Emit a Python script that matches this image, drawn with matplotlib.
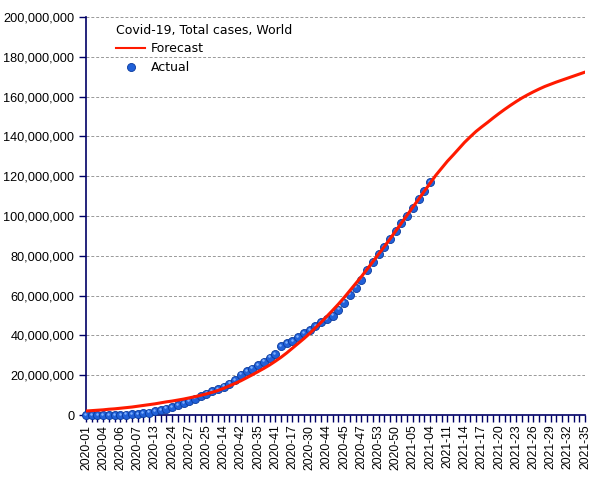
import matplotlib
matplotlib.use('Agg')
import matplotlib.pyplot as plt
from matplotlib.ticker import FuncFormatter

# week labels as printed on the x axis (every third week)
week_labels = ['2020-01', '2020-04', '2020-06', '2020-07', '2020-13', '2020-24',
               '2020-27', '2020-25', '2020-14', '2020-42', '2020-35', '2020-41',
               '2020-17', '2020-30', '2020-44', '2020-45', '2020-47', '2020-53',
               '2020-50', '2021-05', '2021-04', '2021-11', '2021-14', '2021-17',
               '2021-20', '2021-23', '2021-26', '2021-29', '2021-32', '2021-35']

# forecast, millions of cases (88 weeks)
forecast = [2.0, 2.2, 2.4, 2.6, 2.9, 3.1, 3.4, 3.7, 4.0, 4.4,
            4.8, 5.2, 5.6, 6.1, 6.6, 7.0, 7.5, 8.0, 8.6, 9.2,
            9.9, 10.6, 11.4, 12.3, 13.4, 14.6, 15.9, 17.2, 18.7, 20.2,
            21.8, 23.4, 25.1, 27.0, 29.0, 31.2, 33.6, 36.0, 38.4, 41.0,
            43.8, 46.6, 49.6, 52.6, 55.7, 59.0, 62.5, 66.0, 69.5, 73.2,
            77.0, 80.8, 84.6, 88.5, 92.5, 96.5, 100.5, 104.5, 108.5, 112.5,
            116.5, 120.5, 124.0, 127.5, 130.6, 133.8, 137.0, 139.8, 142.5, 144.8,
            147.0, 149.3, 151.5, 153.6, 155.6, 157.5, 159.3, 160.9, 162.4, 163.8,
            165.1, 166.2, 167.3, 168.3, 169.3, 170.3, 171.3, 172.3]

# actual, millions of cases (61 weeks)
actual = [0.0, 0.0, 0.0, 0.0, 0.05, 0.1, 0.1, 0.2, 0.3, 0.5,
          0.8, 1.2, 1.8, 2.5, 3.2, 4.0, 4.9, 5.9, 7.0, 8.2,
          9.5, 10.8, 12.0, 13.0, 14.3, 15.8, 17.6, 20.3, 22.0, 23.3,
          25.0, 26.8, 28.8, 30.8, 34.5, 36.0, 37.2, 39.3, 41.0, 42.8,
          44.5, 46.5, 48.0, 50.0, 53.0, 56.5, 60.5, 64.0, 68.0, 73.0,
          77.0, 81.0, 84.5, 88.5, 92.5, 96.5, 100.0, 104.0, 108.5, 112.5,
          117.0]

plt.rcParams['font.family'] = ['Liberation Sans', 'DejaVu Sans']
navy = '#000066'

fig = plt.figure(figsize=(6.05, 4.8), dpi=100)
ax = fig.add_axes([86/605, 65/480, 499/605, 398/480])

xf = list(range(len(forecast)))
xa = list(range(len(actual)))
yf = [v * 1e6 for v in forecast]
ya = [v * 1e6 for v in actual]

dots, = ax.plot(xa, ya, 'o', color='#2060d8', markeredgecolor='#0a3a9c',
                markeredgewidth=0.6, markersize=5.8, clip_on=False, zorder=3)
# small highlight to get the shaded-ball look
ax.plot([x - 0.15 for x in xa], [y + 0.6e6 for y in ya], 'o', color='#7fb0ff',
        markersize=1.8, markeredgewidth=0, clip_on=False, zorder=3.5)
line, = ax.plot(xf, yf, color='#ff1a00', linewidth=2.2, zorder=4)

ax.set_xlim(0, len(forecast) - 1)
ax.set_ylim(0, 200e6)
ax.set_yticks([i * 20e6 for i in range(11)])
ax.yaxis.set_major_formatter(FuncFormatter(lambda v, p: f'{int(v):,}'))
ax.set_xticks(range(0, len(forecast), 3))
ax.set_xticklabels(week_labels, rotation=90)
ax.set_xticks(range(len(forecast)), minor=True)

ax.grid(axis='y', linestyle=(0, (3, 2)), color='#999999', linewidth=0.7)
ax.set_axisbelow(True)
for s in ['top', 'right']:
    ax.spines[s].set_visible(False)
for s in ['left', 'bottom']:
    ax.spines[s].set_color(navy)
    ax.spines[s].set_linewidth(1.2)
ax.tick_params(axis='both', which='both', color=navy, length=5, width=1,
               labelsize=9.2, labelcolor='black', direction='out')
ax.tick_params(axis='x', pad=2, labelsize=8.8)

leg = ax.legend([line, dots], ['Forecast', 'Actual'], title='Covid-19, Total cases, World',
                loc='upper left', bbox_to_anchor=(0.043, 1.005), frameon=False,
                handlelength=2.3, handletextpad=0.45, labelspacing=0.45,
                borderaxespad=0.3, prop={'family': 'DejaVu Sans', 'size': 9})
leg.get_title().set_family('DejaVu Sans')
leg.get_title().set_fontsize(9)
leg._legend_box.align = 'left'
leg.get_lines()[0].set_linewidth(1.5)

fig.savefig('out.png', dpi=100)
